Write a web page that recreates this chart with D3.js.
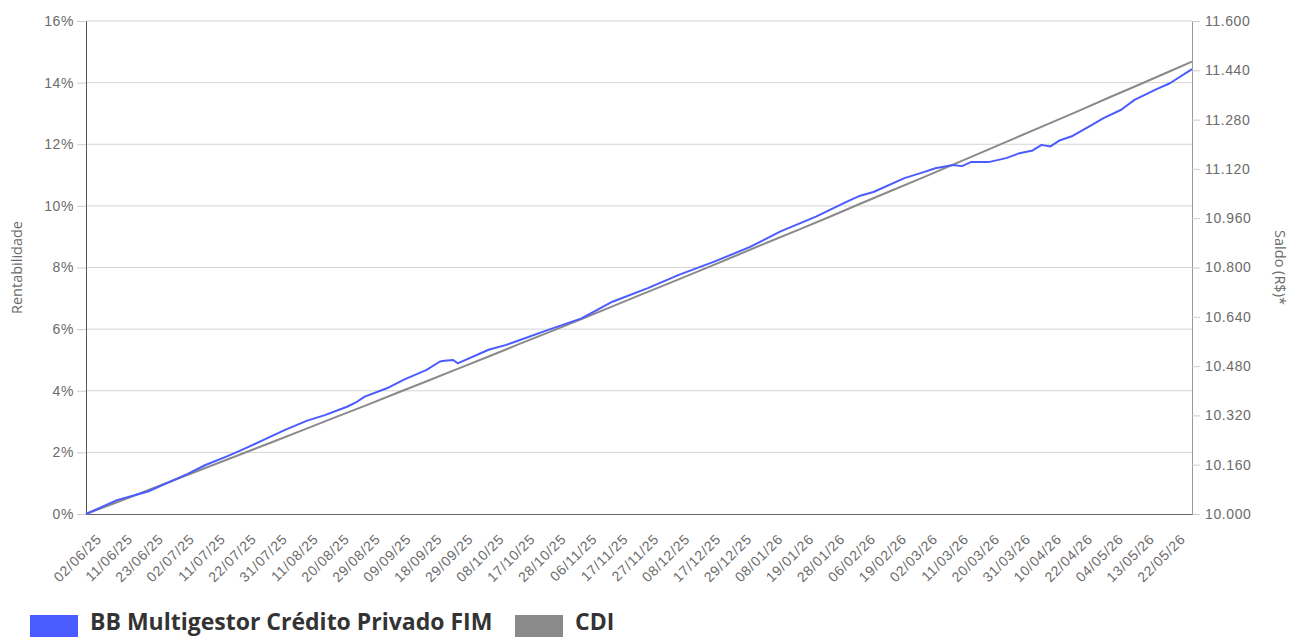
<!DOCTYPE html>
<html>
<head>
<meta charset="utf-8">
<script src="https://cdn.jsdelivr.net/npm/d3@7"></script>
<style>
	body { margin: 0; background: #fff; }
	svg { display: block; font-family: "Open Sans", "Noto Sans", sans-serif; }
	.axis text { fill: #6b6b6b; font-size: 14px; letter-spacing: 0.6px; }
	.xaxis text { font-size: 14px; letter-spacing: 0.8px; }
	.title { fill: #6b6b6b; font-size: 14.5px; }
	.legend text { fill: #333; font-size: 23px; font-weight: bold; }
</style>
</head>
<body>
<svg id="chart" width="1289" height="637"></svg>
<script>
"use strict";

// x axis labels, one every 7 business days
var tickLabels = ['02/06/25', '11/06/25', '23/06/25', '02/07/25', '11/07/25', '22/07/25', '31/07/25',
	'11/08/25', '20/08/25', '29/08/25', '09/09/25', '18/09/25', '29/09/25', '08/10/25', '17/10/25',
	'28/10/25', '06/11/25', '17/11/25', '27/11/25', '08/12/25', '17/12/25', '29/12/25', '08/01/26',
	'19/01/26', '28/01/26', '06/02/26', '19/02/26', '02/03/26', '11/03/26', '20/03/26', '31/03/26',
	'10/04/26', '22/04/26', '04/05/26', '13/05/26', '22/05/26'];
var daysPerTick = 7;
var lastDay = 250;

var leftTicks = [0, 2, 4, 6, 8, 10, 12, 14, 16];
var rightTicks = [10000, 10160, 10320, 10480, 10640, 10800, 10960, 11120, 11280, 11440, 11600];

// CDI accumulated return (%) at each labelled day, plus last day
var cdiDays = [0, 7, 14, 21, 28, 35, 42, 49, 56, 63, 70, 77, 84, 91, 98, 105, 112, 119, 126, 133,
	140, 147, 154, 161, 168, 175, 182, 189, 196, 203, 210, 217, 224, 231, 238, 245, 250];
var cdiReturn = [0, 0.38, 0.77, 1.16, 1.55, 1.94, 2.33, 2.72, 3.12, 3.51, 3.91, 4.31, 4.71, 5.11,
	5.52, 5.92, 6.33, 6.74, 7.15, 7.56, 7.97, 8.39, 8.81, 9.22, 9.64, 10.07, 10.49, 10.91, 11.34,
	11.77, 12.20, 12.63, 13.06, 13.50, 13.93, 14.37, 14.68];

// fund accumulated return (%) at business day
var fundDays = [0, 7, 12, 14, 23, 27, 32, 36, 41, 45, 50, 54, 59, 61, 63, 68, 72, 77, 80, 81, 83,
	84, 91, 95, 97, 104, 112, 119, 127, 134, 142, 150, 157, 165, 172, 175, 178, 185, 189, 192, 196,
	198, 200, 204, 208, 211, 214, 216, 218, 220, 223, 227, 230, 234, 237, 242, 245, 250];
var fundReturn = [0, 0.45, 0.65, 0.73, 1.30, 1.59, 1.88, 2.13, 2.46, 2.73, 3.03, 3.21, 3.48, 3.62,
	3.81, 4.08, 4.37, 4.68, 4.95, 4.97, 5.00, 4.89, 5.33, 5.49, 5.59, 5.95, 6.35, 6.89, 7.33, 7.76,
	8.19, 8.66, 9.17, 9.65, 10.14, 10.33, 10.45, 10.90, 11.08, 11.22, 11.33, 11.29, 11.42, 11.42,
	11.55, 11.71, 11.80, 11.98, 11.93, 12.12, 12.27, 12.60, 12.85, 13.12, 13.44, 13.79, 13.98, 14.44];

var series = [
	{name: 'BB Multigestor Crédito Privado FIM', color: '#4a5cff', days: fundDays, values: fundReturn},
	{name: 'CDI', color: '#8a8a8a', days: cdiDays, values: cdiReturn}
];

(function() {

	var plot = {left: 86, right: 1192, top: 21, bottom: 514};

	var svg = d3.select('#chart');

	var x = d3.scaleLinear().domain([0, lastDay]).range([plot.left, plot.right]);
	var y = d3.scaleLinear().domain([0, 16]).range([plot.bottom, plot.top]);
	var yRight = d3.scaleLinear().domain([10000, 11600]).range([plot.bottom, plot.top]);

	var br = d3.formatLocale({decimal: ',', thousands: '.', grouping: [3], currency: ['R$ ', '']});

	//grid lines
	svg.append('g')
		.selectAll('line')
		.data(leftTicks.slice(1))
		.enter().append('line')
		.attr('x1', plot.left).attr('x2', plot.right)
		.attr('y1', function(d) { return y(d); })
		.attr('y2', function(d) { return y(d); })
		.style('stroke', '#d4d4d4');

	//left axis
	var gLeft = svg.append('g')
		.attr('class', 'axis')
		.attr('transform', 'translate(' + plot.left + ',0)')
		.call(d3.axisLeft(y).tickValues(leftTicks).tickFormat(function(d) { return d + '%'; }).tickSize(9).tickPadding(3));
	gLeft.select('.domain').style('stroke', '#555');
	gLeft.selectAll('.tick line').style('stroke', '#ccc');

	//right axis
	var gRight = svg.append('g')
		.attr('class', 'axis')
		.attr('transform', 'translate(' + plot.right + ',0)')
		.call(d3.axisRight(yRight).tickValues(rightTicks).tickFormat(br.format(',d')).tickSize(8).tickPadding(5));
	gRight.select('.domain').style('stroke', '#999');
	gRight.selectAll('.tick line').style('stroke', '#ccc');

	//bottom axis
	var gBottom = svg.append('g')
		.attr('class', 'axis xaxis')
		.attr('transform', 'translate(0,' + plot.bottom + ')')
		.call(d3.axisBottom(x)
			.tickValues(tickLabels.map(function(d, i) { return i * daysPerTick; }))
			.tickFormat(function(d, i) { return tickLabels[i]; })
			.tickSize(0));
	gBottom.select('.domain').style('stroke', '#666');
	gBottom.selectAll('text')
		.attr('text-anchor', 'end')
		.attr('dy', null)
		.attr('y', 0)
		.attr('transform', 'translate(16,26) rotate(-45)');

	//axis titles
	svg.append('text')
		.attr('class', 'title')
		.attr('text-anchor', 'middle')
		.attr('transform', 'translate(22,' + ((plot.top + plot.bottom) / 2) + ') rotate(-90)')
		.text('Rentabilidade');

	svg.append('text')
		.attr('class', 'title')
		.attr('text-anchor', 'middle')
		.attr('transform', 'translate(1275,' + ((plot.top + plot.bottom) / 2) + ') rotate(90)')
		.text('Saldo (R$)*');

	//lines, CDI drawn first so the fund sits on top
	var line = d3.line()
		.x(function(d) { return x(d[0]); })
		.y(function(d) { return y(d[1]); });

	series.slice().reverse().forEach(function(s) {
		svg.append('path')
			.datum(s.days.map(function(d, i) { return [d, s.values[i]]; }))
			.attr('d', line)
			.style('fill', 'none')
			.style('stroke', s.color)
			.style('stroke-width', 2)
			.style('stroke-linejoin', 'round');
	});

	//legend
	var legendX = [30, 515];
	var legend = svg.append('g').attr('class', 'legend');
	series.forEach(function(s, i) {
		legend.append('rect')
			.attr('x', legendX[i]).attr('y', 615)
			.attr('width', 48).attr('height', 24)
			.style('fill', s.color);
		legend.append('text')
			.attr('x', legendX[i] + 60).attr('y', 630)
			.text(s.name);
	});

})();
</script>
</body>
</html>
